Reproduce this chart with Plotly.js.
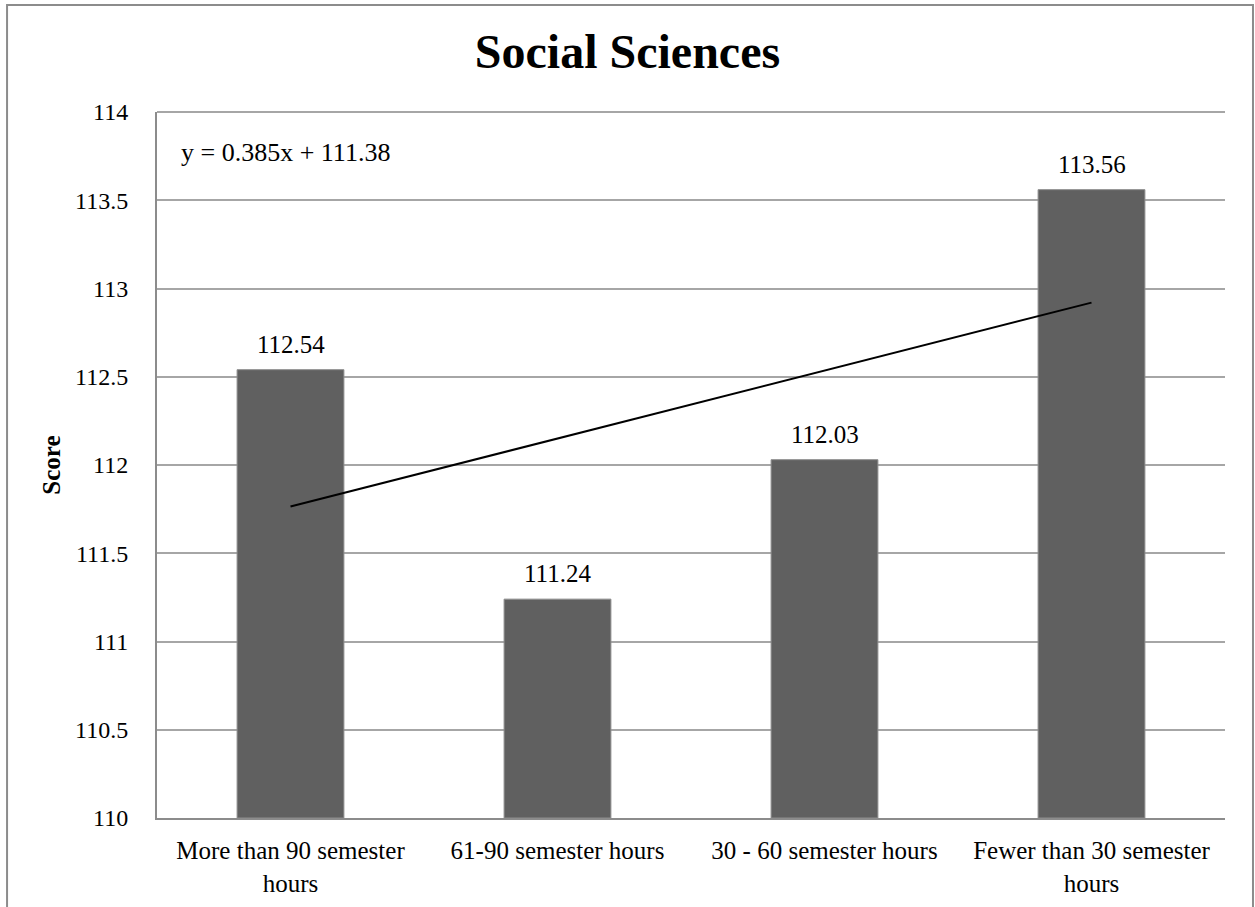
<!DOCTYPE html>
<html>
<head>
<meta charset="utf-8">
<script src="https://cdn.plot.ly/plotly-3.0.1.min.js"></script>
<style>
  html, body { margin: 0; padding: 0; background: #ffffff; }
  #chart { width: 1255px; height: 907px; }
</style>
</head>
<body>
<div id="chart"></div>
<script>
// Mean score by completed semester hours
const categories = [
  "More than 90 semester<br>hours",
  "61-90 semester hours",
  "30 - 60 semester hours",
  "Fewer than 30 semester<br>hours"
];
const scores = [112.54, 111.24, 112.03, 113.56];

// Linear trend fitted over category index 1..4
const trendSlope = 0.385;
const trendIntercept = 111.38;
const trendLabel = "y = 0.385x + 111.38";

const yTickVals = [110, 110.5, 111, 111.5, 112, 112.5, 113, 113.5, 114];

const serif = "Liberation Serif";

const trendX = [categories[0], categories[categories.length - 1]];
const trendY = [trendIntercept + trendSlope * 1, trendIntercept + trendSlope * categories.length];

// bar heights measured from the 110 baseline
const bars = {
  type: "bar",
  x: categories,
  y: scores.map(v => v - 110),
  base: 110,
  marker: { color: "#606060", line: { color: "#8c8c8c", width: 1 } },
  hoverinfo: "skip",
  showlegend: false
};

const trend = {
  type: "scatter",
  mode: "lines",
  x: trendX,
  y: trendY,
  line: { color: "#000000", width: 2 },
  hoverinfo: "skip",
  showlegend: false
};

const valueLabels = categories.map((c, i) => ({
  x: c, y: scores[i], xref: "x", yref: "y",
  text: scores[i].toFixed(2),
  showarrow: false, yanchor: "bottom", yshift: 10,
  font: { family: serif, size: 25, color: "#000000" }
}));

const layout = {
  width: 1255,
  height: 907,
  font: { family: serif, color: "#000000" },
  paper_bgcolor: "#ffffff",
  plot_bgcolor: "#ffffff",
  margin: { l: 157, r: 30, t: 112, b: 89 },
  bargap: 0.6,
  title: {
    text: "<b>Social Sciences</b>",
    font: { family: serif, size: 48, color: "#000000" },
    x: 0.5, xanchor: "center",
    y: 0.944, yanchor: "middle"
  },
  xaxis: {
    type: "category",
    showgrid: false,
    showline: true, linecolor: "#8c8c8c", linewidth: 2,
    ticks: "",
    ticklabelstandoff: 9,
    tickfont: { family: serif, size: 25, color: "#000000" },
    fixedrange: true
  },
  yaxis: {
    range: [110, 114],
    tickvals: yTickVals,
    ticktext: yTickVals.map(v => String(v)),
    showgrid: true, gridcolor: "#a6a6a6", gridwidth: 2,
    showline: true, linecolor: "#8c8c8c", linewidth: 2,
    zeroline: false,
    ticks: "",
    ticklabelstandoff: 22,
    tickfont: { family: serif, size: 24, color: "#000000" },
    title: {
      text: "<b>Score</b>",
      font: { family: serif, size: 25, color: "#000000" },
      standoff: 7
    },
    fixedrange: true
  },
  annotations: valueLabels.concat([{
    x: 0.021, y: 0.943, xref: "paper", yref: "paper",
    xanchor: "left", yanchor: "middle",
    text: trendLabel, showarrow: false,
    font: { family: serif, size: 26, color: "#000000" }
  }]),
  shapes: [{
    type: "rect", xref: "paper", yref: "paper",
    x0: -0.1404, x1: 1.0262, y0: -0.2, y1: 1.1516,
    line: { color: "#8c8c8c", width: 2 },
    fillcolor: "rgba(0,0,0,0)", layer: "below"
  }, {
    type: "line", xref: "paper", yref: "paper",
    x0: 0, x1: 1, y0: 1, y1: 1,
    line: { color: "#a6a6a6", width: 2 }
  }]
};

Plotly.newPlot("chart", [bars, trend], layout, { displayModeBar: false, staticPlot: true });
</script>
</body>
</html>
